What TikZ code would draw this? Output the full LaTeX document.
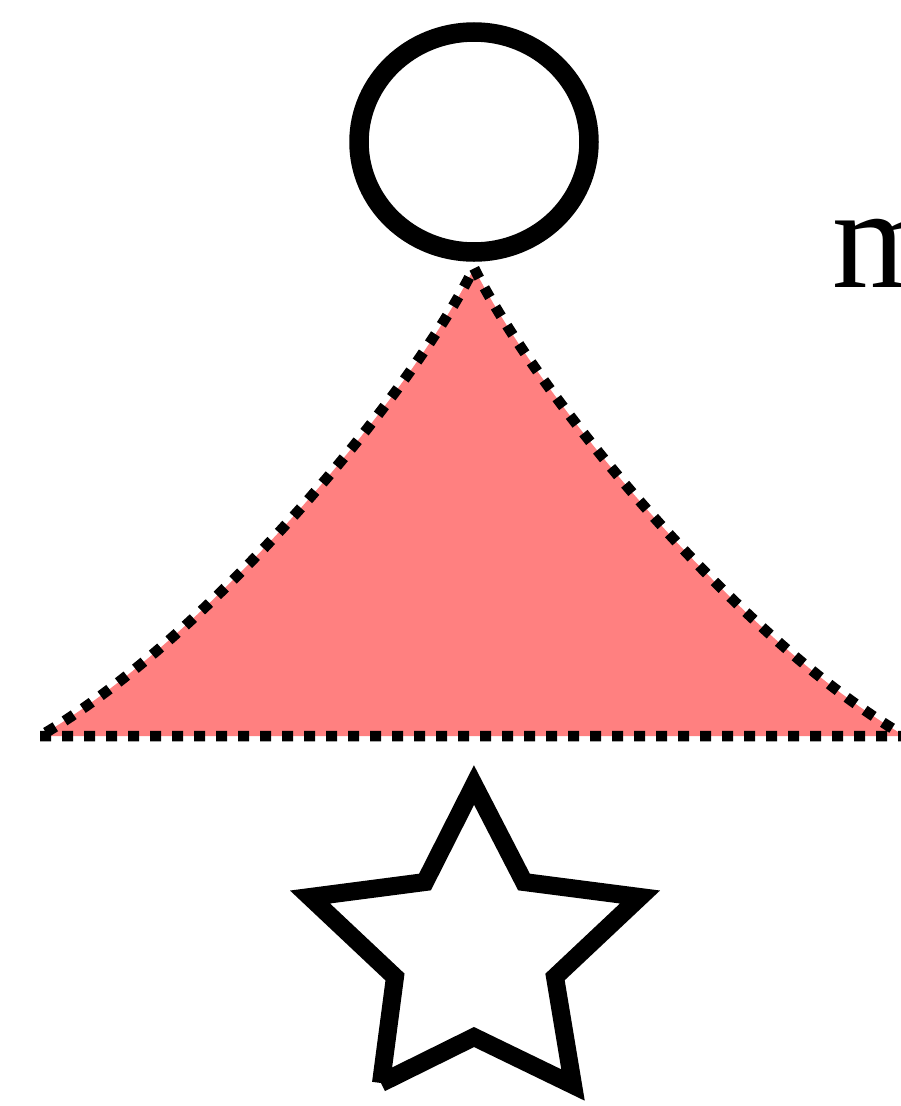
\documentclass[tikz,border=0pt]{standalone}
\usepackage{fontspec}
\setmainfont{Liberation Serif}
\definecolor{tri}{RGB}{255,128,128}
\tikzset{
  ring/.style={draw=black, line width=19.5pt},
  tribody/.style={fill=tri, draw=black, line width=10.5pt, dash pattern=on 11pt off 11pt, miter limit=10},
  starline/.style={draw=black, line width=18pt, line join=miter, line cap=butt}
}
\begin{document}
\begin{tikzpicture}[x=1pt, y=-1pt]
\useasboundingbox (0,0) rectangle (900,1106);
% circle
\draw[ring] (474,142) ellipse [x radius=115, y radius=110];
% label
\node[anchor=base west, inner sep=0pt, font=\fontsize{145}{145}\selectfont] (lbl) at (832,287) {m};
% curved triangle
\coordinate (bl) at (40,736);
\coordinate (br) at (905,736);
\coordinate (ap) at (474,268);
\path[tribody] (bl) -- (br) .. controls (740,640) and (540,400) .. (ap)
  .. controls (408,400) and (205,640) .. (bl) -- cycle;
% star (open path)
\coordinate (s1) at (381,1083);
\coordinate (s2) at (395,977);
\coordinate (s3) at (310,897);
\coordinate (s4) at (425,882);
\coordinate (s5) at (474,785);
\coordinate (s6) at (524,882);
\coordinate (s7) at (640,897);
\coordinate (s8) at (555,977);
\coordinate (s9) at (573,1085);
\coordinate (s10) at (474,1037);
\draw[starline] (s1) -- (s2) -- (s3) -- (s4) -- (s5) -- (s6) -- (s7) -- (s8) -- (s9) -- (s10) -- (s1);
\end{tikzpicture}
\end{document}
